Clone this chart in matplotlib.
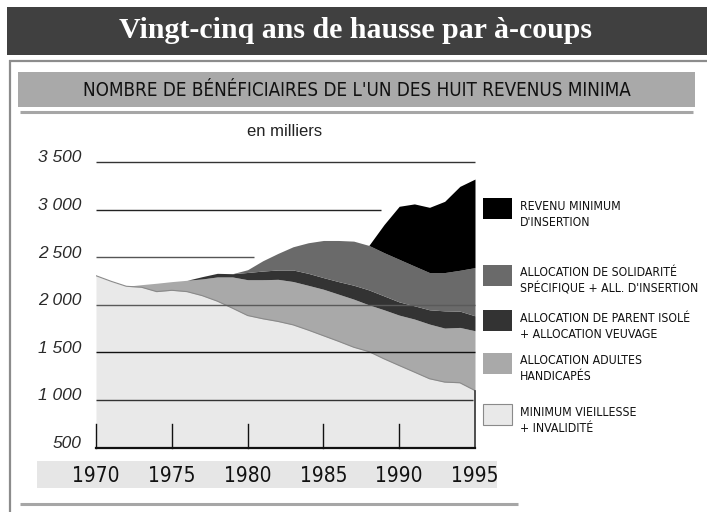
import numpy as np
import matplotlib
matplotlib.use("Agg")
import matplotlib.pyplot as plt
from matplotlib import font_manager as fm
from matplotlib.patches import Rectangle
from matplotlib.lines import Line2D

# ---------------- data (thousands of beneficiaries) ----------------
years = [1970, 1971, 1972, 1973, 1974, 1975, 1976, 1977, 1978, 1979, 1980, 1981, 1982,
         1983, 1984, 1985, 1986, 1987, 1988, 1989, 1990, 1991, 1992, 1993, 1994, 1995]
# Minimum vieillesse + invalidité (absolute level on the axis)
minimum_vieillesse = [2306, 2247, 2195, 2185, 2139, 2153, 2139, 2097, 2039, 1965, 1888, 1854, 1826,
                      1790, 1735, 1676, 1617, 1555, 1509, 1433, 1363, 1294, 1224, 1189, 1182, 1100]
# Allocation adultes handicapés
aah = [0, 0, 0, 27, 88, 91, 119, 175, 254, 328, 376, 410, 442,
       455, 470, 488, 495, 505, 491, 515, 529, 557, 574, 567, 581, 628]
# Allocation de parent isolé + allocation veuvage
api_veuvage = [0, 0, 0, 0, 0, 0, 0, 24, 38, 34, 76, 91, 98,
               121, 126, 122, 132, 146, 157, 146, 139, 139, 150, 181, 171, 157]
# Allocation de solidarité spécifique + allocation d'insertion
ass_ai = [0, 0, 0, 0, 0, 0, 0, 0, 0, 0, 29, 108, 174,
          244, 321, 390, 432, 463, 467, 454, 447, 418, 391, 402, 429, 506]
# Revenu minimum d'insertion
rmi = [0, 0, 0, 0, 0, 0, 0, 0, 0, 0, 0, 0, 0,
       0, 0, 0, 0, 0, 0, 295, 557, 652, 685, 748, 881, 930]

grid_values = [3500, 3000, 2500, 2000, 1500, 1000, 500]
grid_labels = ["3 500", "3 000", "2 500", "2 000", "1 500", "1 000", "500"]
year_ticks = [1970, 1975, 1980, 1985, 1990, 1995]

title = "Vingt-cinq ans de hausse par à-coups"
subtitle = "NOMBRE DE BÉNÉFICIAIRES DE L'UN DES HUIT REVENUS MINIMA"
unit = "en milliers"
legend_labels = [
    ("REVENU MINIMUM", "D'INSERTION"),
    ("ALLOCATION DE SOLIDARITÉ", "SPÉCIFIQUE + ALL. D'INSERTION"),
    ("ALLOCATION DE PARENT ISOLÉ", "+ ALLOCATION VEUVAGE"),
    ("ALLOCATION ADULTES", "HANDICAPÉS"),
    ("MINIMUM VIEILLESSE", "+ INVALIDITÉ"),
]

# ---------------- fonts ----------------
names = {f.name for f in fm.fontManager.ttflist}
if "Liberation Sans Narrow" in names:
    NARROW = dict(family="Liberation Sans Narrow")
else:
    cond = [f for f in fm.fontManager.ttflist if f.name == "DejaVu Sans" and "ondensed" in str(f.stretch)]
    NARROW = dict(family="DejaVu Sans", stretch="condensed") if cond else dict(family="Roboto")
SERIF = dict(family="Liberation Serif")
SANS = dict(family="Liberation Sans")

W, H = 707, 512
fig = plt.figure(figsize=(W / 100, H / 100), dpi=100)
fig.patch.set_facecolor("white")


def fx(x):
    return x / W


def fy(y):
    return 1 - y / H


def rect(x0, y0, x1, y1, color, z=0.5, **kw):
    fig.add_artist(Rectangle((fx(x0), fy(y1)), fx(x1) - fx(x0), fy(y0) - fy(y1),
                             transform=fig.transFigure, facecolor=color, zorder=z, **kw))


def hline(x0, x1, y, color, lw):
    fig.add_artist(Line2D([fx(x0), fx(x1)], [fy(y), fy(y)], transform=fig.transFigure,
                          color=color, lw=lw, solid_capstyle="butt", zorder=0.6))


def vline(x, y0, y1, color, lw):
    fig.add_artist(Line2D([fx(x), fx(x)], [fy(y0), fy(y1)], transform=fig.transFigure,
                          color=color, lw=lw, solid_capstyle="butt", zorder=0.6))


# ---------------- decorations ----------------
rect(7, 7, 707, 55, "#404040", lw=0)
fig.text(fx(356), fy(31), title, color="white", fontsize=21.5, fontweight="bold",
         ha="center", va="center", zorder=5, **SERIF)
hline(9, 707, 61, "#8c8c8c", 1.6)
vline(10, 60, 512, "#8c8c8c", 1.6)
rect(18, 72, 695, 107, "#a9a9a9", lw=0)
fig.text(fx(357), fy(90), subtitle, color="#111111", fontsize=13.5, ha="center", va="center",
         zorder=5, **NARROW)
hline(20, 693, 112, "#a6a6a6", 2.2)
rect(37, 461, 497, 488, "#e6e6e6", lw=0)
hline(20, 518, 504, "#a6a6a6", 2.2)

# ---------------- chart ----------------
ax = fig.add_axes([fx(96), fy(447.7), fx(475) - fx(96), fy(162) - fy(447.7)])
ax.set_zorder(2)
ax.set_xlim(1970, 1995)
ax.set_ylim(500, 3500)
ax.axis("off")

yrs = np.array(years, dtype=float)
mv = np.array(minimum_vieillesse, dtype=float)
t1 = mv + np.array(aah)
t2 = t1 + np.array(api_veuvage)
t3 = t2 + np.array(ass_ai)
t4 = t3 + np.array(rmi)

colors = ["#e9e9e9", "#a9a9a9", "#333333", "#6a6a6a", "#000000"]
ax.fill_between(yrs, 500, mv, color=colors[0], lw=0, zorder=1)
ax.fill_between(yrs, mv, t1, color=colors[1], lw=0, zorder=1)
ax.fill_between(yrs, t1, t2, color=colors[2], lw=0, zorder=1)
ax.fill_between(yrs, t2, t3, color=colors[3], lw=0, zorder=1)
ax.fill_between(yrs, t3, t4, color=colors[4], lw=0, zorder=1)
ax.plot(yrs, mv, color="#8a8a8a", lw=0.8, zorder=2)
ax.plot([1995, 1995], [500, mv[-1]], color="#333333", lw=1.2, zorder=3, clip_on=False)

grid_ext = {3500: 1995, 3000: 1988.8, 2500: 1980.4, 2000: 1995, 1500: 1995, 1000: 1994.9}
grid_col = {3500: "#333333", 3000: "#222222", 2500: "#555555", 2000: "#5a5a5a",
            1500: "#111111", 1000: "#333333"}
for v, xe in grid_ext.items():
    ax.plot([1970, xe], [v, v], color=grid_col[v], lw=1.0, zorder=4, clip_on=False,
            solid_capstyle="butt")
ax.plot([1970, 1995], [500, 500], color="#111111", lw=1.6, zorder=5, clip_on=False)
for yr in year_ticks[:-1]:
    ax.plot([yr, yr], [500, 750], color="#111111", lw=1.0, zorder=5, clip_on=False)

for v, lab in zip(grid_values, grid_labels):
    ax.annotate(lab, xy=(fx(81), v), xycoords=("figure fraction", "data"),
                xytext=(0, 3), textcoords="offset points", ha="right", va="center",
                fontsize=12.5, style="italic", color="#2a2a2a", annotation_clip=False, **SANS)
for yr in year_ticks:
    ax.annotate(str(yr), xy=(yr, fy(476)), xycoords=("data", "figure fraction"),
                ha="center", va="center", fontsize=15, color="#111111",
                annotation_clip=False, **NARROW)

fig.text(fx(285), fy(131), unit, fontsize=12, ha="center", va="center", color="#222222", **SANS)

# ---------------- legend ----------------
tops = [198, 265, 310, 353, 404]
for (l1, l2), top, c in zip(legend_labels, tops, colors[::-1]):
    ec = "#8a8a8a" if c == colors[0] else "none"
    rect(483, top, 512, top + 21, c, lw=0.8 if ec != "none" else 0, edgecolor=ec)
    fig.text(fx(520), fy(top + 8), l1, fontsize=8.8, ha="left", va="center", color="#111111", **NARROW)
    fig.text(fx(520), fy(top + 24), l2, fontsize=8.8, ha="left", va="center", color="#111111", **NARROW)

fig.savefig("out.png", dpi=100, facecolor="white")
